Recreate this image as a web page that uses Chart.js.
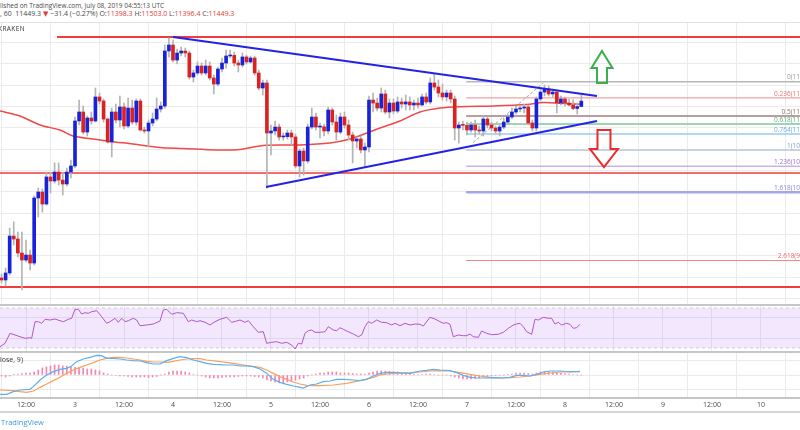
<!DOCTYPE html>
<html>
<head>
<meta charset="utf-8">
<title>BTCUSD 60 KRAKEN</title>
<script src="https://cdn.jsdelivr.net/npm/chart.js@4.4.1/dist/chart.umd.min.js"></script>
<style>
  html, body { margin: 0; padding: 0; background: #fff; }
  body { position: relative; width: 800px; height: 430px; overflow: hidden; font-family: "Open Sans", "DejaVu Sans", sans-serif; color: #4a4a4a; }
  canvas, .txt, .rule { position: absolute; left: 0; }
  .txt { white-space: nowrap; font-size: 7px; line-height: 8px; }
  .red { color: #e53935; }
  .rule { width: 800px; }
</style>
</head>
<body>
<div class="txt" style="top:2px;font-size:6.5px">lished on TradingView.com, July 08, 2019 04:55:13 UTC</div>
<div class="txt" style="top:10px">, 60&nbsp; 11449.3 <span class="red">▼</span> −31.4 (−0.27%) O:<span class="red">11398.3</span> H:<span class="red">11503.0</span> L:<span class="red">11396.4</span> C:<span class="red">11449.3</span></div>

<canvas id="priceChart" width="800" height="283" style="top:22px"></canvas>
<canvas id="rsiChart" width="800" height="47" style="top:305px"></canvas>
<canvas id="macdChart" width="800" height="60" style="top:352px"></canvas>

<div class="rule" style="top:22px;height:1px;background:#e2e2e2"></div>
<div class="rule" style="top:304px;height:2px;background:#c6c6c6"></div>
<div class="rule" style="top:351px;height:2px;background:#c6c6c6"></div>
<div class="rule" style="top:397px;height:2px;background:#c6c6c6"></div>
<div class="rule" style="top:411px;height:2px;background:#d6d6d6"></div>

<div class="txt" style="top:25px;left:-2px;font-size:6.5px;letter-spacing:0.4px;color:#333">KRAKEN</div>
<div class="txt" style="top:356px;left:0;color:#333">lose, 9)</div>
<div class="txt" style="top:418px;left:1px;font-size:7.5px;color:#3a9be0">TradingView</div>

<script>
// BTCUSD 60 min, Kraken, Jul 2 - Jul 8 2019
// x values are hours counted from Jul 2 00:00 UTC

// ---- candles (one per hour, first one at hour 6) ----
const firstCandleHour = 6;

const opens = [
  9791, 9772, 9838, 10184, 10156, 10025, 9959, 10006, 9931, 10541,
  10597, 10484, 10738, 10700, 10784, 10709, 10672, 10784, 10841, 11263,
  11347, 11159, 11291, 11263, 11488, 11450, 11281, 11066, 11347, 11272,
  11394, 11216, 11384, 11253, 11450, 11178, 11169, 11244, 11281, 11375,
  11403, 11919, 11975, 11834, 11900, 11919, 11900, 11675, 11713, 11778,
  11713, 11778, 11666, 11609, 11750, 11806, 11872, 11878, 11806, 11788,
  11863, 11816, 11853, 11713, 11572, 11619, 11150, 11169, 11206, 11113,
  11116, 11150, 11113, 10841, 10981, 10888, 11206, 11300, 11206, 11208,
  11169, 11366, 11253, 11159, 11300, 11225, 11131, 11075, 11094, 10991,
  11019, 11459, 11431, 11384, 11516, 11347, 11431, 11356, 11441, 11422,
  11441, 11413, 11431, 11413, 11488, 11441, 11619, 11581, 11525, 11488,
  11525, 11469, 11197, 11225, 11222, 11178, 11225, 11178, 11169, 11281,
  11225, 11197, 11169, 11206, 11253, 11300, 11347, 11375, 11384, 11394,
  11244, 11197, 11469, 11534, 11563, 11516, 11534, 11431, 11469, 11431,
  11413, 11380, 11398.3
];
const highs = [
  9828, 9884, 10259, 10316, 10222, 10222, 10147, 10053, 10560, 10634,
  10625, 10784, 10784, 10869, 10869, 10784, 10822, 10897, 11300, 11459,
  11403, 11309, 11347, 11572, 11525, 11469, 11291, 11384, 11422, 11497,
  11431, 11478, 11459, 11469, 11469, 11206, 11272, 11338, 11478, 11441,
  11975, 12041, 12022, 11938, 11956, 11947, 11919, 11741, 11816, 11806,
  11834, 11816, 11694, 11769, 11853, 11928, 11928, 11909, 11834, 11900,
  11881, 11872, 11872, 11741, 11647, 11647, 11225, 11263, 11234, 11150,
  11178, 11178, 11141, 11000, 11009, 11234, 11384, 11338, 11244, 11234,
  11394, 11384, 11319, 11338, 11347, 11272, 11159, 11113, 11122, 11056,
  11497, 11525, 11478, 11572, 11553, 11469, 11469, 11488, 11478, 11506,
  11488, 11459, 11478, 11516, 11525, 11666, 11703, 11647, 11609, 11553,
  11553, 11497, 11253, 11263, 11253, 11253, 11272, 11216, 11309, 11300,
  11253, 11216, 11234, 11291, 11328, 11384, 11403, 11413, 11422, 11413,
  11272, 11488, 11572, 11600, 11591, 11563, 11553, 11497, 11488, 11469,
  11460, 11431, 11503.0
];
const lows = [
  9744, 9716, 9819, 10100, 9988, 9678, 9941, 9866, 9913, 10363,
  10409, 10475, 10588, 10681, 10663, 10569, 10653, 10728, 10822, 11225,
  11141, 11122, 11234, 11253, 11422, 11253, 11056, 10925, 11244, 11206,
  11188, 11197, 11234, 11225, 11169, 11150, 11019, 11216, 11263, 11347,
  11384, 11863, 11816, 11797, 11872, 11863, 11656, 11628, 11694, 11694,
  11694, 11647, 11516, 11591, 11722, 11759, 11853, 11778, 11722, 11769,
  11797, 11806, 11694, 11553, 11506, 10634, 10944, 11131, 11084, 11084,
  11094, 11038, 10822, 10738, 10756, 10869, 11188, 11178, 11103, 11122,
  11141, 11225, 11084, 11141, 11197, 11084, 10869, 11009, 10963, 10831,
  10972, 11347, 11356, 11347, 11328, 11291, 11328, 11338, 11384, 11366,
  11366, 11366, 11384, 11403, 11422, 11422, 11553, 11488, 11459, 11450,
  11431, 11084, 11056, 11178, 11131, 11159, 11113, 11141, 11122, 11197,
  11169, 11150, 11122, 11188, 11234, 11281, 11328, 11347, 11338, 11225,
  11169, 11169, 11450, 11497, 11497, 11488, 11338, 11413, 11403, 11403,
  11370, 11328, 11396.4
];
const closes = [
  9772, 9838, 10184, 10156, 10025, 9959, 10006, 9931, 10541, 10597,
  10484, 10738, 10700, 10784, 10709, 10672, 10784, 10841, 11263, 11347,
  11159, 11291, 11263, 11488, 11450, 11281, 11066, 11347, 11272, 11394,
  11216, 11384, 11253, 11450, 11178, 11169, 11244, 11281, 11375, 11403,
  11919, 11975, 11834, 11900, 11919, 11900, 11675, 11713, 11778, 11713,
  11778, 11666, 11609, 11750, 11806, 11872, 11878, 11806, 11788, 11863,
  11816, 11853, 11713, 11572, 11619, 11150, 11169, 11206, 11113, 11116,
  11150, 11113, 10841, 10981, 10888, 11206, 11300, 11206, 11208, 11169,
  11366, 11253, 11159, 11300, 11225, 11131, 11075, 11094, 10991, 11019,
  11459, 11431, 11384, 11516, 11347, 11431, 11356, 11441, 11422, 11441,
  11413, 11431, 11413, 11488, 11441, 11619, 11581, 11525, 11488, 11525,
  11469, 11197, 11225, 11222, 11178, 11225, 11178, 11169, 11281, 11225,
  11197, 11169, 11206, 11253, 11300, 11347, 11375, 11384, 11394, 11244,
  11197, 11469, 11534, 11563, 11516, 11534, 11431, 11469, 11431, 11413,
  11380, 11398, 11449.3
];

// ---- moving average (red line) ----
const maHours  = [5.63, 10.53, 15.43, 20.33, 23.51, 28.41, 32.57, 38.2, 44.82, 50.45, 58.78, 64.41, 70.04, 79.1, 86.45, 91.35, 95.51, 98.69, 103.59, 108.49, 113.39, 118.29, 126.37, 134.7, 138.61, 142.78, 147.67];
const maValues = [11356, 11309, 11225, 11178, 11122, 11094, 11070, 11047, 11014, 11005, 10991, 10995, 11033, 11038, 11056, 11094, 11150, 11197, 11263, 11347, 11384, 11397, 11403, 11417, 11436, 11429, 11419];

// ---- drawn levels ----
const resistanceTop = 12050;     // red line at the top
const supportMid = 10775;        // red line in the middle
const supportLow = 9706;         // red line at the bottom
const resistanceTopFrom = 19.6;

const upperTrendHours  = [48.0, 151.84];
const upperTrendPrices = [12050, 11497];
const lowerTrendHours  = [70.78, 151.84];
const lowerTrendPrices = [10644, 11263];

const fibRatios = ['0', '0.236', '0.5', '0.618', '0.764', '1', '1.236', '1.618', '2.618'];
const fibPrices = [11630, 11479, 11310, 11234.5, 11141, 10990, 10839, 10594.5, 9954.5];
const fibStartHour = 119.8;
const fibSwingHours  = [121.5, 138.7];
const fibSwingPrices = [11060, 11620];

const upArrow   = { hour: 153.06, tip: 11919, tail: 11619 };
const downArrow = { hour: 153.55, tip: 10831, tail: 11178 };

// ---- RSI ----
const rsiHours = [
  5.63, 6.86, 8.08, 9.31, 10.53, 11.76, 12.98, 13.39, 14.2, 15.02,
  15.84, 16.65, 17.88, 19.1, 20.33, 21.14, 22.37, 23.18, 24, 24.82,
  25.63, 26.45, 27.27, 28.08, 29.31, 30.53, 31.76, 32.57, 33.8, 34.61,
  35.43, 36.24, 37.06, 38.29, 39.1, 39.92, 41.55, 43.18, 44.82, 45.63,
  46.45, 47.67, 48.9, 50.53, 51.76, 52.57, 53.8, 54.61, 55.84, 57.06,
  58.29, 59.51, 61.14, 62.37, 63.59, 64.41, 65.63, 66.45, 67.67, 68.9,
  70.12, 70.94, 72.16, 73.39, 74.61, 75.84, 77.06, 77.88, 78.69, 79.51,
  80.33, 81.14, 81.96, 82.78, 84, 85.22, 86.04, 87.27, 88.08, 88.9,
  89.71, 90.94, 92.16, 93.39, 94.2, 95.02, 95.84, 96.65, 97.88, 99.1,
  100.33, 101.55, 102.37, 103.59, 104.82, 106.04, 107.27, 108.49, 109.31, 110.94,
  112.16, 113.39, 114.2, 115.02, 115.84, 116.65, 117.88, 119.1, 119.92, 120.73,
  121.55, 122.78, 123.59, 124.82, 126.04, 127.67, 128.9, 130.12, 131.35, 132.16,
  132.98, 133.8, 134.61, 135.84, 136.65, 137.47, 138.69, 139.92, 140.73, 141.55,
  142.37, 143.18, 144.41, 145.22, 146.04, 146.86, 147.67
];
const rsiValues = [
  31.3, 34.7, 44.7, 43, 41.3, 39.7, 40.3, 39.7, 56.3, 56.3,
  54.7, 58.7, 58, 59, 57.3, 56.3, 58.7, 59.7, 68.7, 68.7,
  64, 65.3, 64.7, 66.3, 67.3, 61.3, 54.7, 56.3, 59.7, 55.7,
  59.7, 56.3, 57.3, 59.7, 58, 52.3, 53, 54, 57, 68,
  68.7, 63.7, 65.3, 64.7, 56.3, 58, 56.3, 57.3, 55.7, 53,
  56.3, 58.7, 60.7, 55.7, 57, 58, 55.7, 57.3, 51.3, 45.7,
  46.3, 34.7, 35.7, 36.3, 34.7, 35.7, 33, 29, 34.7, 34,
  44.7, 47.3, 48, 45.7, 45.7, 46.3, 51.3, 48, 47.3, 50.3,
  48.7, 46.3, 44, 41.3, 43, 51.3, 56.3, 54.7, 58, 55.7,
  55.3, 53, 54.7, 52.3, 54.7, 53, 54, 53.7, 52, 60.7,
  59, 56.3, 54.7, 55.3, 53.7, 41.3, 43, 42.3, 42.3, 44,
  41.3, 40.7, 47, 44.7, 43.3, 43.7, 45.7, 49.7, 53, 54,
  54.7, 51.3, 46.3, 43.7, 58.7, 58, 60.7, 59.7, 59.7, 54,
  55.7, 53, 54.7, 53.7, 49.7, 50.3, 53.7
];
const rsiUpper = 70;
const rsiLower = 30;

// ---- MACD (12, 26, close, 9) ----
const macdHours = [
  5.63, 7.27, 8.9, 10.53, 12.98, 13.8, 15.43, 17.06, 18.69, 20.33,
  21.96, 23.18, 24.4, 26.04, 27.67, 29.3, 30.53, 31.76, 33.39, 35.02,
  36.65, 38.29, 39.92, 41.55, 43.18, 44.82, 46.45, 48.08, 49.71, 51.35,
  52.98, 54.61, 56.24, 57.88, 59.51, 61.14, 62.78, 64.41, 66.04, 67.67,
  69.31, 70.94, 72.57, 74.2, 75.84, 77.47, 79.1, 79.92, 81.55, 83.18,
  84.82, 86.45, 88.08, 89.71, 92.16, 93.8, 95.43, 97.06, 98.69, 100.33,
  101.96, 103.59, 106.04, 108.49, 110.12, 111.76, 113.39, 115.84, 117.47, 119.1,
  120.73, 122.37, 124, 126.45, 128.9, 130.53, 132.16, 133.8, 135.43, 137.06,
  138.69, 140.33, 142.78, 145.22, 147.67
];
const macdValues = [
  -67.6, -67.6, -58.3, -52.5, -50.2, -40.8, -17.5, 0, 11.7, 19.8,
  23.3, 31.5, 46.7, 56, 61.8, 68.8, 67.7, 58.3, 58.3, 56,
  52.5, 50.2, 49, 43.2, 38.5, 38.5, 50.2, 58.3, 64.2, 60.7,
  52.5, 46.7, 40.8, 37.3, 36.2, 35, 35, 31.5, 31.5, 29.2,
  21, 5.8, -15.2, -25.7, -32.7, -38.5, -43.2, -45.5, -35, -31.5,
  -23.3, -21, -15.2, -15.2, -17.5, -19.8, -15.2, -3.5, 5.8, 9.3,
  9.3, 7.6, 5.8, 14, 16.3, 19.8, 17.5, 15.2, 8.2, -1.2,
  -8.2, -10.5, -10.5, -9.3, -10.5, -8.2, -1.2, -1.2, -3.5, 2.3,
  10.5, 14, 14, 10.5, 12.8
];
const signalHours = [
  5.63, 8.9, 10.53, 12.16, 13.8, 15.43, 17.06, 18.69, 20.33, 21.96,
  23.59, 25.22, 26.86, 28.49, 30.12, 31.76, 33.39, 35.02, 36.65, 38.29,
  39.92, 41.55, 43.18, 44.82, 46.45, 48.08, 49.71, 51.35, 52.98, 54.61,
  56.24, 59.51, 62.78, 66.04, 69.31, 70.94, 72.57, 74.2, 75.84, 77.47,
  79.1, 80.73, 82.37, 84, 87.27, 90.53, 93.8, 95.43, 97.06, 98.69,
  100.33, 101.96, 103.59, 106.04, 108.49, 110.94, 113.39, 115.84, 118.29, 120.73,
  123.18, 125.63, 128.08, 130.53, 132.98, 135.43, 137.88, 140.33, 142.78, 145.22,
  147.67
];
const signalValues = [
  -52.5, -54.8, -58.3, -60.7, -56, -43.2, -31.5, -19.8, -8.2, 5.8,
  17.5, 26.8, 35, 43.2, 52.5, 58.3, 61.8, 61.8, 59.5, 56,
  52.5, 47.8, 45.5, 45.5, 44.3, 47.8, 52.5, 56, 57.2, 57.2,
  52.5, 46.7, 40.8, 32.7, 26.8, 17.5, 5.8, -5.8, -15.2, -24.5,
  -31.5, -36.2, -37.3, -37.3, -35, -29.2, -19.8, -14, -8.2, 0,
  3.5, 5.8, 7, 8.2, 10.5, 14, 15.2, 14, 8.2, 2.3,
  -3.5, -8.2, -10.5, -9.3, -7, -3.5, 2.3, 7, 10.5, 11.7,
  11.7
];
// histogram, one bar per candle (same hours as the candles)
const macdHist = [
  -3.5, -7, -3.5, 1.8, 3.5, 5.3, 7, 7, 10.5, 17.5,
  24.5, 28, 31.5, 35, 35, 31.5, 31.5, 28, 28, 24.5,
  24.5, 21, 21, 17.5, 14, 7, 3.5, 0, -1.8, -3.5,
  -3.5, -5.3, -7, -7, -7, -7, -8.8, -7, -5.3, 0,
  3.5, 10.5, 14, 14, 14, 10.5, 7, 1.8, 0, -3.5,
  -7, -10.5, -10.5, -10.5, -8.8, -7, -7, -7, -5.3, -3.5,
  -3.5, -3.5, -5.3, -7, -10.5, -17.5, -21, -24.5, -28, -28,
  -24.5, -21, -17.5, -14, -10.5, -3.5, 0, 3.5, 7, 7,
  10.5, 10.5, 10.5, 7, 7, 7, 5.3, 3.5, 3.5, 3.5,
  7, 10.5, 14, 14, 14, 12.3, 10.5, 10.5, 7, 5.3,
  3.5, 3.5, 1.8, 1.8, 3.5, 3.5, 1.8, 0, 0, 0,
  -3.5, -7, -10.5, -14, -14, -14, -12.3, -10.5, -7, -5.3,
  -3.5, -1.8, 0, 0, 1.8, 3.5, 7, 7, 7, 5.3,
  3.5, 7, 10.5, 12.3, 12.3, 10.5, 8.8, 7, 5.3, 3.5,
  1.8, 0, 0
];

// ---- axes ----
const timeTickHours = [12, 24, 36, 48, 60, 72, 84, 96, 108, 120, 132, 144, 156, 168, 180, 192];
const timeTickLabels = ['12:00', '3', '12:00', '4', '12:00', '5', '12:00', '6', '12:00', '7', '12:00', '8', '12:00', '9', '12:00', '10'];
const priceGridLevels = [9600, 9800, 10000, 10200, 10400, 10600, 10800, 11000, 11200, 11400, 11600, 11800, 12000];
const rsiGridLevels = [40, 60];
const macdGridLevels = [-50, 0, 50];

// visible window (hours) and value ranges of the three panes
const viewStartHour = 5.63;
const viewEndHour = 201.56;
const priceMin = 9537.6, priceMax = 12190.75;
const rsiMin = 26, rsiMax = 73;
const macdMin = -80.5, macdMax = 80.5;

// ---- styles ----
const UP = '#1822d8';
const DOWN = '#da2222';
const WICK = '#b4b4b4';
const GRID = '#ebebeb';
const LEVEL_RED = '#f03c3c';
const TREND_BLUE = '#2323e6';
const fibColors = ['#b8b8b8', '#f08a8a', '#9c7f7f', '#7cc896', '#9ccbee', '#9fb6c9', '#b58ad9', '#a3a6ea', '#f08a8a'];
const fibWidths = [1.5, 1, 1.5, 1.5, 1.5, 1, 1, 2.5, 1];
const fibTextColors = ['#999', '#e57373', '#8d6e6e', '#5cb07a', '#6fb0e0', '#84a3c0', '#a070d0', '#8388e0', '#e57373'];

const candleHours = opens.map((_, i) => firstCandleHour + i);

function hline(price, fromHour, color, width) {
  return {
    type: 'line',
    data: [{ x: fromHour, y: price }, { x: viewEndHour, y: price }],
    borderColor: color, borderWidth: width, pointRadius: 0, fill: false, order: 5
  };
}

function segment(hoursArr, prices, color, width, dash) {
  return {
    type: 'line',
    data: hoursArr.map((h, i) => ({ x: h, y: prices[i] })),
    borderColor: color, borderWidth: width, borderDash: dash || [], pointRadius: 0, fill: false, order: 0
  };
}

function hiddenAxis(extra) {
  return Object.assign({
    grid: { color: GRID, drawTicks: false },
    border: { display: false },
    ticks: { display: false }
  }, extra);
}

function timeAxis(showLabels) {
  return {
    type: 'linear',
    min: viewStartHour,
    max: viewEndHour,
    offset: false,
    grid: { color: GRID, drawTicks: false },
    border: { display: false },
    ticks: {
      display: showLabels,
      autoSkip: false,
      maxRotation: 0,
      padding: 3,
      color: '#4a4a4a',
      font: { size: 7, family: 'Open Sans' },
      callback: (v, i) => timeTickLabels[i]
    },
    afterBuildTicks: s => { s.ticks = timeTickHours.map(v => ({ value: v })); },
    afterFit: s => { s.height = showLabels ? 14 : 0; }
  };
}

// arrows and fib level texts
const drawingsPlugin = {
  id: 'drawings',
  afterDatasetsDraw(chart) {
    const { ctx, chartArea } = chart;
    const x = chart.scales.x, y = chart.scales.y;
    ctx.save();

    ctx.font = '6.5px "Open Sans"';
    ctx.textAlign = 'right';
    ctx.textBaseline = 'bottom';
    const hidden = ctx.measureText('630.0)').width;
    fibPrices.forEach((p, i) => {
      ctx.fillStyle = fibTextColors[i];
      ctx.fillText(fibRatios[i] + '(' + p.toFixed(1) + ')', chartArea.right + hidden, y.getPixelForValue(p) - 1);
    });

    function arrow(a, color, headLen, headHalf, shaftHalf) {
      const cx = x.getPixelForValue(a.hour);
      const tipY = y.getPixelForValue(a.tip);
      const tailY = y.getPixelForValue(a.tail);
      const dir = tailY > tipY ? 1 : -1;
      const baseY = tipY + dir * headLen;
      ctx.beginPath();
      ctx.moveTo(cx, tipY);
      ctx.lineTo(cx + headHalf, baseY);
      ctx.lineTo(cx + shaftHalf, baseY);
      ctx.lineTo(cx + shaftHalf, tailY);
      ctx.lineTo(cx - shaftHalf, tailY);
      ctx.lineTo(cx - shaftHalf, baseY);
      ctx.lineTo(cx - headHalf, baseY);
      ctx.closePath();
      ctx.lineWidth = 2;
      ctx.strokeStyle = color;
      ctx.stroke();
    }
    arrow(upArrow, '#3aae4a', 17, 10.5, 5);
    arrow(downArrow, '#ee2a2a', 18, 14, 6.5);
    ctx.restore();
  }
};

const commonOptions = {
  responsive: false,
  animation: false,
  events: [],
  layout: { padding: 0, autoPadding: false },
  plugins: { legend: { display: false }, tooltip: { enabled: false } }
};

// ---- price pane ----
new Chart(document.getElementById('priceChart'), {
  type: 'bar',
  data: {
    datasets: [
      segment(upperTrendHours, upperTrendPrices, TREND_BLUE, 2),
      segment(lowerTrendHours, lowerTrendPrices, TREND_BLUE, 2),
      {
        type: 'bar',
        data: candleHours.map((h, i) => ({ x: h, y: [opens[i], closes[i]] })),
        backgroundColor: candleHours.map((h, i) => closes[i] >= opens[i] ? UP : DOWN),
        barThickness: 3, minBarLength: 1, grouped: false, order: 1
      },
      {
        type: 'bar',
        data: candleHours.map((h, i) => ({ x: h, y: [lows[i], highs[i]] })),
        backgroundColor: WICK,
        barThickness: 1, grouped: false, order: 2
      },
      {
        type: 'line',
        data: maHours.map((h, i) => ({ x: h, y: maValues[i] })),
        borderColor: '#f24848', borderWidth: 1.5, pointRadius: 0, fill: false, tension: 0.3, order: 3
      },
      hline(resistanceTop, resistanceTopFrom, LEVEL_RED, 2),
      hline(supportMid, viewStartHour, LEVEL_RED, 1.5),
      hline(supportLow, viewStartHour, LEVEL_RED, 2),
      ...fibPrices.map((p, i) => hline(p, fibStartHour, fibColors[i], fibWidths[i])),
      Object.assign(segment(fibSwingHours, fibSwingPrices, '#a8a8a8', 1, [3, 2]), { order: 4 })
    ]
  },
  options: Object.assign({}, commonOptions, {
    scales: {
      x: timeAxis(false),
      y: hiddenAxis({
        min: priceMin, max: priceMax,
        afterBuildTicks: s => { s.ticks = priceGridLevels.map(v => ({ value: v })); },
        afterFit: s => { s.width = 0; }
      })
    }
  }),
  plugins: [drawingsPlugin]
});

// ---- RSI pane ----
new Chart(document.getElementById('rsiChart'), {
  type: 'line',
  data: {
    datasets: [
      {
        data: rsiHours.map((h, i) => ({ x: h, y: rsiValues[i] })),
        borderColor: '#b058c8', borderWidth: 1, pointRadius: 0, fill: false, order: 0
      },
      {
        data: [{ x: viewStartHour, y: rsiUpper }, { x: viewEndHour, y: rsiUpper }],
        borderColor: '#cfcfcf', borderWidth: 1, borderDash: [3, 3], pointRadius: 0, fill: false, order: 1
      },
      {
        data: [{ x: viewStartHour, y: rsiLower }, { x: viewEndHour, y: rsiLower }],
        borderColor: '#cfcfcf', borderWidth: 1, borderDash: [3, 3], pointRadius: 0,
        fill: '-1', backgroundColor: 'rgba(150, 60, 230, 0.12)', order: 2
      }
    ]
  },
  options: Object.assign({}, commonOptions, {
    scales: {
      x: timeAxis(false),
      y: hiddenAxis({
        min: rsiMin, max: rsiMax,
        afterBuildTicks: s => { s.ticks = rsiGridLevels.map(v => ({ value: v })); },
        afterFit: s => { s.width = 0; }
      })
    }
  })
});

// ---- MACD pane ----
new Chart(document.getElementById('macdChart'), {
  type: 'bar',
  data: {
    datasets: [
      {
        type: 'line',
        data: macdHours.map((h, i) => ({ x: h, y: macdValues[i] })),
        borderColor: '#5ab0f2', borderWidth: 1.2, pointRadius: 0, fill: false, order: 0
      },
      {
        type: 'line',
        data: signalHours.map((h, i) => ({ x: h, y: signalValues[i] })),
        borderColor: '#f9a060', borderWidth: 1.2, pointRadius: 0, fill: false, order: 1
      },
      {
        type: 'bar',
        data: candleHours.map((h, i) => ({ x: h, y: macdHist[i] })),
        backgroundColor: '#f584b0',
        barThickness: 1, grouped: false, order: 2
      }
    ]
  },
  options: Object.assign({}, commonOptions, {
    scales: {
      x: timeAxis(true),
      y: hiddenAxis({
        min: macdMin, max: macdMax,
        afterBuildTicks: s => { s.ticks = macdGridLevels.map(v => ({ value: v })); },
        afterFit: s => { s.width = 0; }
      })
    }
  })
});
</script>
</body>
</html>
